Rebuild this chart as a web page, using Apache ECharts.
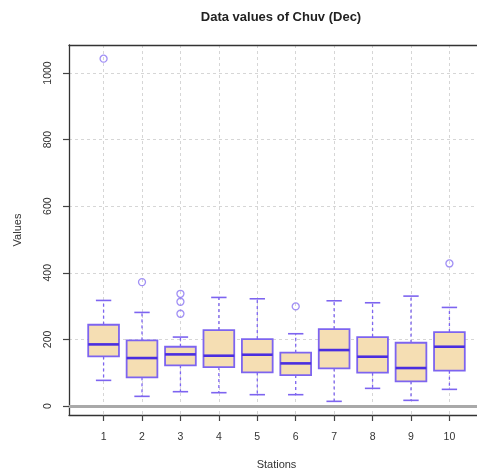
<!DOCTYPE html>
<html>
<head>
<meta charset="utf-8">
<script src="https://cdn.jsdelivr.net/npm/echarts@6/dist/echarts.min.js"></script>
<style>
  html, body { margin: 0; padding: 0; background: #ffffff; }
  #chart { width: 477px; height: 475px; }
</style>
</head>
<body>
<div id="chart"></div>
<script>
// Five-number summaries per station (December values of Chuv)
const stations      = [1, 2, 3, 4, 5, 6, 7, 8, 9, 10];
const lowerWhisker  = [77, 29, 43, 40, 34, 34, 14, 53, 17, 50];
const lowerQuartile = [149, 86, 122, 117, 101, 93, 113, 100, 74, 106];
const medians       = [185, 144, 155, 151, 154, 128, 168, 148, 114, 178];
const upperQuartile = [244, 197, 178, 228, 201, 160, 231, 207, 190, 222];
const upperWhisker  = [317, 281, 207, 326, 322, 217, 316, 310, 330, 296];

// Points beyond the whiskers: [station, value]
const outliers = [
  [1, 1043],
  [2, 372],
  [3, 337], [3, 313], [3, 277],
  [6, 299],
  [10, 428]
];

const yTicks = [0, 200, 400, 600, 800, 1000];

const boxData = stations.map((s, i) => [
  s, lowerWhisker[i], lowerQuartile[i], medians[i], upperQuartile[i], upperWhisker[i]
]);

const BORDER = '#7d64f0';
const MEDIAN = '#4a2ee0';
const FRAME = '#333';
const FONT = '"Liberation Sans", Arial, sans-serif';

function renderBox(params, api) {
  const x = api.value(0);
  const lo = api.coord([x, api.value(1)]);
  const q1 = api.coord([x, api.value(2)]);
  const md = api.coord([x, api.value(3)]);
  const q3 = api.coord([x, api.value(4)]);
  const hi = api.coord([x, api.value(5)]);
  const boxW = api.size([0.8, 0])[0];
  const capW = api.size([0.4, 0])[0];
  const cx = lo[0];
  const whisker = { stroke: BORDER, lineWidth: 1.3, lineDash: [3, 3] };
  const solid = { stroke: BORDER, lineWidth: 1.6 };
  return {
    type: 'group',
    children: [
      { type: 'line', shape: { x1: cx, y1: q3[1], x2: cx, y2: hi[1] }, style: whisker },
      { type: 'line', shape: { x1: cx, y1: q1[1], x2: cx, y2: lo[1] }, style: whisker },
      { type: 'line', shape: { x1: cx - capW / 2, y1: hi[1], x2: cx + capW / 2, y2: hi[1] }, style: solid },
      { type: 'line', shape: { x1: cx - capW / 2, y1: lo[1], x2: cx + capW / 2, y2: lo[1] }, style: solid },
      {
        type: 'rect',
        shape: { x: cx - boxW / 2, y: q3[1], width: boxW, height: q1[1] - q3[1] },
        style: { fill: '#f5deb3', stroke: BORDER, lineWidth: 1.8 }
      },
      {
        type: 'line',
        shape: { x1: cx - boxW / 2, y1: md[1], x2: cx + boxW / 2, y2: md[1] },
        style: { stroke: MEDIAN, lineWidth: 2.6 }
      }
    ]
  };
}

const chart = echarts.init(document.getElementById('chart'), null, { renderer: 'canvas' });

chart.setOption({
  backgroundColor: '#ffffff',
  animation: false,
  title: {
    text: 'Data values of Chuv (Dec)',
    left: 276,
    textAlign: 'center',
    top: 6,
    textStyle: { fontFamily: FONT, fontSize: 13, fontWeight: 'bold', color: '#222' }
  },
  grid: {
    left: 69, top: 45, width: 415, height: 370,
    outerBoundsMode: 'none',
    containLabel: false,
    show: false
  },
  xAxis: [
    {
      type: 'value',
      position: 'bottom',
      min: 0.1, max: 10.9,
      name: 'Stations',
      nameLocation: 'middle',
      nameGap: 44,
      nameTextStyle: { fontFamily: FONT, fontSize: 11, color: '#333' },
      axisLine: { show: true, onZero: false, lineStyle: { color: FRAME, width: 1.3 } },
      axisTick: { show: true, customValues: stations, length: 6, lineStyle: { color: '#444', width: 1.2 } },
      axisLabel: { customValues: stations, margin: 17, fontFamily: FONT, fontSize: 10.5, color: '#333',
                   formatter: v => String(v) },
      splitLine: { show: true, lineStyle: { color: '#d6d6d6', type: [3, 3], width: 1 } }
    },
    {
      // top edge of the plot frame
      type: 'value',
      position: 'top',
      min: 0.1, max: 10.9,
      axisLine: { show: true, onZero: false, lineStyle: { color: FRAME, width: 1.3 } },
      axisTick: { show: false },
      axisLabel: { show: false },
      splitLine: { show: false }
    }
  ],
  yAxis: {
    type: 'value',
    min: -27, max: 1084,
    name: 'Values',
    nameLocation: 'middle',
    nameRotate: 90,
    nameGap: 46,
    nameTextStyle: { fontFamily: FONT, fontSize: 11, color: '#333' },
    axisLine: { show: true, onZero: false, lineStyle: { color: FRAME, width: 1.3 } },
    axisTick: { show: true, customValues: yTicks, length: 6, lineStyle: { color: '#444', width: 1.2 } },
    axisLabel: { customValues: yTicks, rotate: 90, margin: 15, fontFamily: FONT, fontSize: 10.5, color: '#333',
                 formatter: v => String(v) },
    splitLine: { show: true, lineStyle: { color: '#d6d6d6', type: [3, 3], width: 1 } }
  },
  series: [
    {
      type: 'custom',
      renderItem: renderBox,
      data: boxData,
      encode: { x: 0, y: [1, 2, 3, 4, 5] },
      z: 3,
      markLine: {
        silent: true,
        symbol: 'none',
        label: { show: false },
        lineStyle: { color: '#a9a9a9', width: 3, type: 'solid' },
        data: [{ yAxis: 0 }]
      }
    },
    {
      type: 'scatter',
      data: outliers,
      symbol: 'circle',
      symbolSize: 7,
      itemStyle: { color: 'rgba(0,0,0,0)', borderColor: '#8a74f2', borderWidth: 1.3 },
      z: 4
    }
  ]
});
</script>
</body>
</html>
